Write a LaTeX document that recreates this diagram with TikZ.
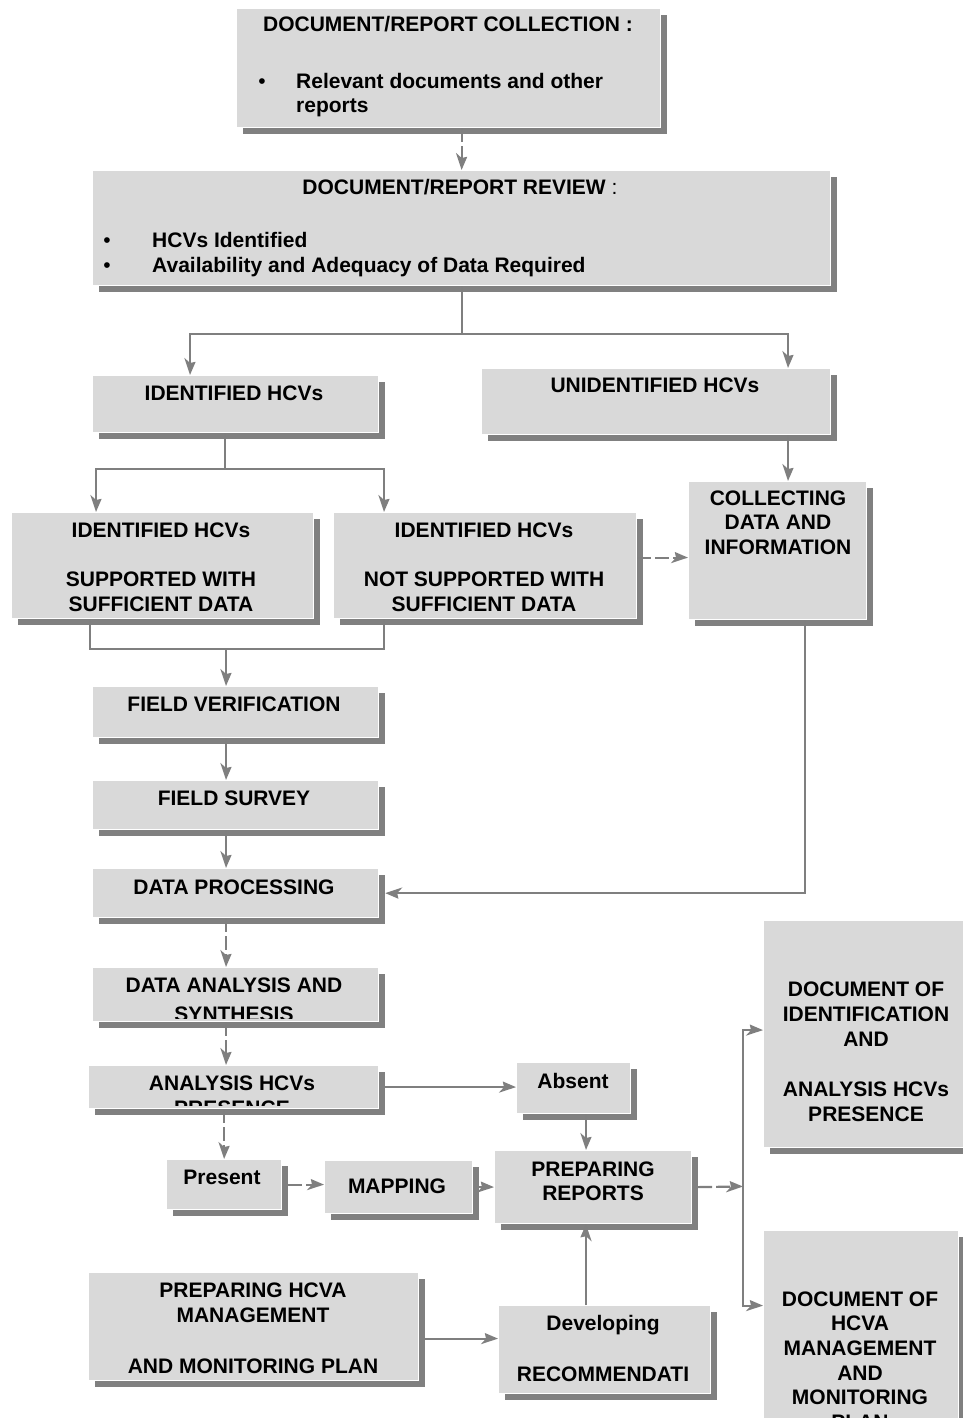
\documentclass[tikz,border=0pt]{standalone}
\usepackage{fontspec}
\setmainfont{Liberation Sans}
\usetikzlibrary{arrows.meta,shadows,calc}
\definecolor{boxfill}{HTML}{D9D9D9}
\definecolor{shade}{HTML}{808080}
\definecolor{conn}{HTML}{7F7F7F}
\tikzset{
  hbox/.style={fill=boxfill, draw=white, line width=1.2pt, inner sep=0pt, anchor=north west,
     drop shadow={shadow xshift=6pt, shadow yshift=-6pt, fill=shade, opacity=1}},
  txt/.style={font=\fontsize{21}{24.6}\selectfont\bfseries, align=center, inner sep=0pt, anchor=north},
  ltxt/.style={font=\fontsize{21}{24.6}\selectfont\bfseries, inner sep=0pt, anchor=base west},
  bul/.style={font=\fontsize{21}{24.6}\selectfont, inner sep=0pt, anchor=base},
  conline/.style={draw=conn, line width=2.2pt},
  arr/.style={conline, -{Stealth[length=15pt,width=11pt,inset=3pt,slant=0.35]}},
  dsh/.style={dash pattern=on 14pt off 4pt},
}
\begin{document}
\begin{tikzpicture}[x=1pt,y=-1pt]
\useasboundingbox (0,0) rectangle (962,1418);
% boxes
\node[hbox, minimum width=424pt, minimum height=119pt] (coll) at (236,8) {};
\node[hbox, minimum width=738pt, minimum height=115pt] (rev) at (92,170) {};
\node[hbox, minimum width=286pt, minimum height=57pt] (idh) at (92,375) {};
\node[hbox, minimum width=349pt, minimum height=66pt] (unid) at (481,368) {};
\node[hbox, minimum width=302pt, minimum height=106pt] (sup) at (11,512) {};
\node[hbox, minimum width=303pt, minimum height=106pt] (nsup) at (333,512) {};
\node[hbox, minimum width=178pt, minimum height=138pt] (coll2) at (688,481) {};
\node[hbox, minimum width=286pt, minimum height=51pt] (fv) at (92,686) {};
\node[hbox, minimum width=286pt, minimum height=49pt] (fs) at (92,780) {};
\node[hbox, minimum width=286pt, minimum height=49pt] (dp) at (92,868) {};
\node[hbox, minimum width=286pt, minimum height=54pt] (das) at (92,967) {};
\node[hbox, minimum width=290pt, minimum height=43pt] (ahp) at (88,1065) {};
\node[hbox, minimum width=114pt, minimum height=51pt] (abs) at (516,1062) {};
\node[hbox, minimum width=115pt, minimum height=50pt] (pres) at (166,1159) {};
\node[hbox, minimum width=148pt, minimum height=53pt] (map) at (324,1160) {};
\node[hbox, minimum width=197pt, minimum height=73pt] (prep) at (494,1150) {};
\node[hbox, minimum width=205pt, minimum height=227pt] (doc1) at (763,920) {};
\node[hbox, minimum width=195pt, minimum height=200pt] (doc2) at (763,1230) {};
\node[hbox, minimum width=330pt, minimum height=108pt] (phm) at (88,1272) {};
\node[hbox, minimum width=212pt, minimum height=88pt] (dev) at (498,1305) {};
% texts
\node[txt] (tcoll) at (448,16.5) {DOCUMENT/REPORT COLLECTION :};
\node[bul] (bc1) at (262,88.5) {•};
\node[ltxt] (tc1) at (296,88.5) {Relevant documents and other};
\node[ltxt] (tc2) at (296,112.5) {reports};
\node[txt] (trev) at (460,179.5) {DOCUMENT/REPORT REVIEW\mdseries\ :};
\node[bul] (br1) at (107,247.5) {•};
\node[ltxt] (tr1) at (152,247.5) {HCVs Identified};
\node[bul] (br2) at (107,272.5) {•};
\node[ltxt] (tr2) at (152,272.5) {Availability and Adequacy of Data Required};
\node[txt] (tidh) at (234,385.5) {IDENTIFIED HCVs};
\node[txt] (tunid) at (655,377.5) {UNIDENTIFIED HCVs};
\node[txt] (tsup) at (161,522.5) {IDENTIFIED HCVs\\[24.6pt]SUPPORTED WITH\\SUFFICIENT DATA};
\node[txt] (tnsup) at (484,522.5) {IDENTIFIED HCVs\\[24.6pt]NOT SUPPORTED WITH\\SUFFICIENT DATA};
\node[txt] (tcoll2) at (778,490.5) {COLLECTING\\DATA AND\\INFORMATION};
\node[txt] (tfv) at (234,696.5) {FIELD VERIFICATION};
\node[txt] (tfs) at (234,790.5) {FIELD SURVEY};
\node[txt] (tdp) at (234,879.5) {DATA PROCESSING};
\begin{scope}
\clip (das.north west) rectangle ([yshift=4pt]das.south east);
\node[txt] (tdas) at (234,977.5) {DATA ANALYSIS AND\\[4.4pt]SYNTHESIS};
\end{scope}
\begin{scope}
\clip (ahp.north west) rectangle ([yshift=4pt]ahp.south east);
\node[txt] (tahp) at (232,1075.5) {ANALYSIS HCVs\\[1pt]PRESENCE};
\end{scope}
\node[txt] (tabs) at (573,1073.5) {Absent};
\node[txt] (tpres) at (222,1169.5) {Present};
\node[txt] (tmap) at (397,1178.5) {MAPPING};
\node[txt] (tprep) at (593,1161.5) {PREPARING\\REPORTS};
\node[txt, font=\fontsize{21}{25}\selectfont\bfseries] (tdoc1) at (866,981.5) {DOCUMENT OF\\IDENTIFICATION\\AND\\[25pt]ANALYSIS HCVs\\PRESENCE};
\node[txt] (tdoc2) at (860,1291.5) {DOCUMENT OF\\HCVA\\MANAGEMENT\\AND\\MONITORING\\PLAN};
\node[txt, font=\fontsize{21}{25.3}\selectfont\bfseries] (tphm) at (253,1282.5) {PREPARING HCVA\\MANAGEMENT\\[25.3pt]AND MONITORING PLAN};
\node[txt, font=\fontsize{21}{25.5}\selectfont\bfseries] (tdev) at (603,1315.5) {Developing\\[25.5pt]RECOMMENDATI};
% connectors
\draw[arr, dsh] (coll.south -| rev.north) -- (rev.north);
\draw[conline] (rev.south) -- ++(0,48) coordinate (j1);
\draw[arr] (j1) -| ([xshift=98pt]idh.north west);
\draw[arr] (j1) -| ([xshift=307pt]unid.north west);
\draw[conline] ([xshift=133pt]idh.south west) -- ++(0,36) coordinate (j2);
\draw[arr] (j2) -| ([xshift=85pt]sup.north west);
\draw[arr] (j2) -| ([xshift=51pt]nsup.north west);
\draw[conline] ([xshift=79pt]sup.south west) |- ([xshift=51pt,yshift=-30pt]nsup.south west) -- ([xshift=51pt]nsup.south west);
\coordinate (j3) at (226,648);
\draw[arr] (j3) -- (j3 |- fv.north);
\coordinate (n1) at ([yshift=8pt]nsup.east);
\draw[arr, dsh] (n1) -- (n1 -| coll2.west);
\coordinate (u1) at ([xshift=307pt]unid.south west);
\draw[arr] (u1) -- (u1 |- coll2.north);
\coordinate (c1) at ([xshift=117pt]coll2.south west);
\draw[arr] (c1) |- ([xshift=6pt]dp.east);
\coordinate (v1) at ([xshift=134pt]fv.south west);
\draw[arr] (v1) -- (v1 |- fs.north);
\coordinate (v2) at ([xshift=134pt]fs.south west);
\draw[arr] (v2) -- (v2 |- dp.north);
\coordinate (v3) at ([xshift=134pt]dp.south west);
\draw[arr, dsh] (v3) -- (v3 |- das.north);
\coordinate (v4) at ([xshift=134pt]das.south west);
\draw[arr, dsh] (v4) -- (v4 |- ahp.north);
\draw[arr] ([xshift=6pt]ahp.east) -- (ahp.east -| abs.west);
\coordinate (v5) at (pres.north |- ahp.south);
\draw[arr, dsh] (v5) -- (pres.north);
\draw[arr, dsh] ([xshift=6pt]pres.east) -- (pres.east -| map.west);
\draw[arr, dsh] ([xshift=6pt]map.east) -- (map.east -| prep.west);
\coordinate (a1) at ([xshift=70pt]abs.south west);
\draw[arr] (a1) -- (a1 |- prep.north);
\coordinate (br) at (743,1186.5);
\draw[arr, dsh] ([xshift=6pt]prep.east) -- (br);
\draw[arr] (br) |- ([yshift=4pt]doc1.west);
\draw[arr] (br) |- ([yshift=25pt]doc2.west);
\coordinate (p1) at ([xshift=6pt,yshift=-12pt]phm.east);
\draw[arr] (p1) -- (p1 -| dev.west);
\coordinate (d1) at ([xshift=88pt]dev.north west);
\draw[arr] (d1) -- (d1 |- prep.south);
\end{tikzpicture}
\end{document}
